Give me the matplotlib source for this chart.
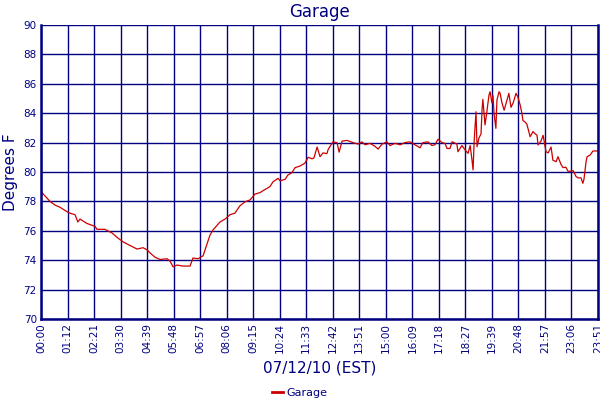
import matplotlib
matplotlib.use("Agg")
import matplotlib.pyplot as plt

# time labels on the category axis (one per grid slot)
tick_labels = ["00:00", "01:12", "02:21", "03:30", "04:39", "05:48", "06:57",
               "08:06", "09:15", "10:24", "11:33", "12:42", "13:51", "15:00",
               "16:09", "17:18", "18:27", "19:39", "20:48", "21:57", "23:06",
               "23:51"]

# sample position (in tick slots) and temperature
slot = [0.00, 0.11, 0.34, 0.53, 0.72, 0.98, 1.09, 1.28, 1.39, 1.47, 1.73,
        2.04, 2.11, 2.41, 2.68, 2.87, 3.09, 3.36, 3.62, 3.85, 4.00, 4.11,
        4.30, 4.49, 4.75, 4.86, 4.98, 5.13, 5.35, 5.62, 5.73, 5.92, 6.11,
        6.26, 6.37, 6.48, 6.75, 6.94, 7.13, 7.31, 7.50, 7.69, 7.88, 8.07,
        8.26, 8.37, 8.63, 8.75, 8.94, 9.01, 9.20, 9.31, 9.46, 9.58, 9.76,
        9.95, 10.07, 10.22, 10.29, 10.41, 10.52, 10.63, 10.78, 10.82, 10.90,
        11.01, 11.16, 11.24, 11.35, 11.54, 11.76, 11.95, 12.10, 12.22, 12.40,
        12.59, 12.71, 12.86, 13.04, 13.16, 13.35, 13.54, 13.72, 13.91, 14.10,
        14.29, 14.40, 14.59, 14.74, 14.85, 14.97, 15.12, 15.23, 15.31, 15.42,
        15.50, 15.68, 15.72, 15.87, 15.99, 16.10, 16.18, 16.25, 16.29, 16.33,
        16.40, 16.44, 16.51, 16.59, 16.63, 16.66, 16.74, 16.81, 16.89, 16.93,
        17.00, 17.04, 17.08, 17.15, 17.19, 17.27, 17.31, 17.38, 17.46, 17.57,
        17.64, 17.72, 17.80, 17.91, 17.98, 18.06, 18.13, 18.17, 18.25, 18.32,
        18.44, 18.55, 18.63, 18.70, 18.74, 18.85, 18.93, 19.04, 19.12, 19.23,
        19.30, 19.42, 19.49, 19.61, 19.68, 19.79, 19.87, 19.98, 20.06, 20.17,
        20.25, 20.36, 20.43, 20.47, 20.55, 20.59, 20.70, 20.81, 21.00]

temp = [78.7, 78.45, 78.0, 77.75, 77.6, 77.3, 77.2, 77.1, 76.6, 76.8, 76.5,
        76.3, 76.1, 76.1, 75.85, 75.55, 75.25, 75.0, 74.76, 74.85, 74.7, 74.5,
        74.2, 74.05, 74.1, 73.95, 73.55, 73.67, 73.6, 73.6, 74.15, 74.1, 74.3,
        75.1, 75.7, 76.05, 76.6, 76.8, 77.1, 77.2, 77.7, 77.97, 78.1, 78.5,
        78.6, 78.73, 79.0, 79.34, 79.57, 79.4, 79.5, 79.8, 79.95, 80.3, 80.4,
        80.6, 81.0, 80.9, 80.95, 81.7, 81.04, 81.3, 81.25, 81.5, 81.75,
        82.05, 82.0, 81.35, 82.1, 82.15, 82.0, 81.9, 82.05, 81.85, 81.95,
        81.75, 81.56, 81.9, 82.05, 81.8, 81.95, 81.85, 82.0, 82.05, 81.85,
        81.65, 82.0, 82.05, 81.8, 81.85, 82.23, 82.0, 81.95, 81.6, 81.6,
        82.06, 81.9, 81.38, 81.8, 81.5, 81.27, 81.8, 80.8, 80.14, 82.06,
        84.1, 81.72, 82.3, 82.6, 84.3, 84.94, 83.2, 84.1, 85.24, 85.46,
        84.7, 85.2, 84.0, 82.97, 84.9, 85.46, 85.35, 84.7, 84.2, 84.9,
        85.35, 84.4, 84.7, 85.35, 85.1, 84.6, 84.0, 83.5, 83.4, 83.25,
        82.4, 82.75, 82.6, 82.5, 81.84, 82.1, 82.5, 81.38, 81.3, 81.7,
        80.8, 80.7, 81.04, 80.5, 80.3, 80.32, 80.05, 80.05, 80.1, 79.7,
        79.6, 79.6, 79.23, 79.5, 80.7, 81.04, 81.15, 81.43, 81.43]

navy = "#000080"
red = "#cc0000"

fig = plt.figure(figsize=(6, 4), dpi=100)
ax = fig.add_axes([41 / 600, 1 - 319 / 400, 557 / 600, 294 / 400])

ax.plot(slot, temp, color=red, lw=0.9, label="Garage")

ax.set_xlim(0, len(tick_labels) - 1)
ax.set_ylim(70, 90)
ax.set_xticks(range(len(tick_labels)))
ax.set_xticklabels(tick_labels, rotation=90)
ax.set_yticks(range(70, 91, 2))

ax.grid(True, color=navy, lw=1.0)
ax.set_axisbelow(True)
ax.tick_params(colors=navy, labelsize=7.5, length=0, pad=3)
ax.spines["top"].set_visible(False)
for side in ["left", "right", "bottom"]:
    ax.spines[side].set_color(navy)
    ax.spines[side].set_linewidth(1.8)

ax.set_title("Garage", color=navy, fontsize=12, pad=6)
ax.set_ylabel("Degrees F", color=navy, fontsize=11, labelpad=4)
ax.set_xlabel("07/12/10 (EST)", color=navy, fontsize=11, labelpad=5)

leg = fig.legend(loc="lower center", bbox_to_anchor=(0.5, -0.02), frameon=False,
                 fontsize=8, handlelength=1.0, handletextpad=0.3)
for t in leg.get_texts():
    t.set_color(navy)
for h in leg.legend_handles:
    h.set_linewidth(2)

fig.savefig("out.png", dpi=100)
